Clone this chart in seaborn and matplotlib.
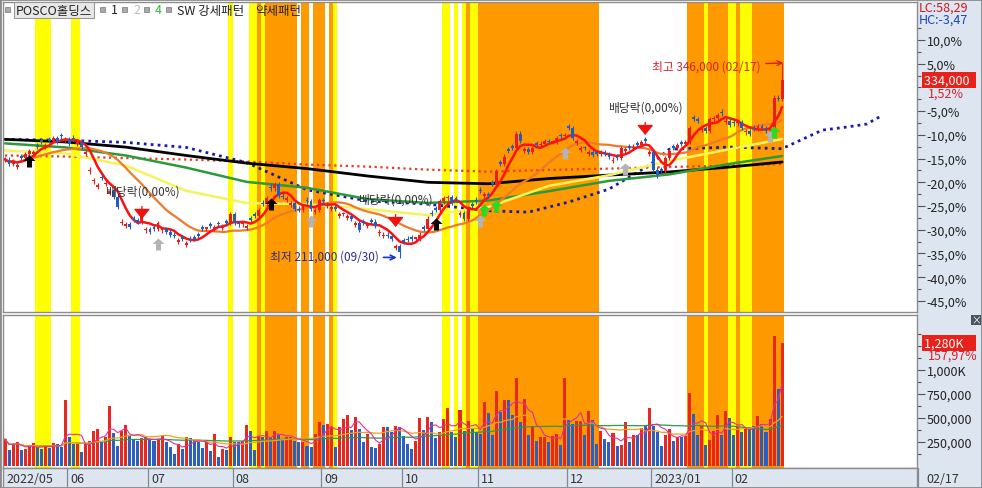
import numpy as np
import pandas as pd
import matplotlib
matplotlib.use("Agg")
import matplotlib.pyplot as plt
import matplotlib.transforms as mtransforms
from matplotlib.patches import Rectangle
from matplotlib.path import Path as MPath
import seaborn as sns

# 기준가(천원) -> 0%
BASE = 329.0

# 종가 (천원), 2022-05-10 ~ 2023-02-17
close = [
    279, 276, 278, 275, 280, 283, 285, 284, 288, 291,
    289, 292, 294, 291, 295, 293, 290, 293, 291, 288,
    284, 272, 265, 261, 266, 263, 257, 253, 246, 236,
    234, 232, 237, 236, 240, 231, 229, 231, 235, 231,
    229, 227, 226, 223, 224, 221, 223, 224, 226, 231,
    231, 233, 232, 234, 233, 235, 241, 235, 234, 234,
    233, 237, 240, 244, 248, 252, 259, 262, 254, 253,
    252, 249, 245, 244, 247, 250, 245, 244, 251, 250,
    248, 246, 245, 241, 241, 240, 238, 235, 230, 235,
    234, 236, 233, 229, 227, 226, 224, 219, 215, 222,
    223, 224, 224, 227, 231, 238, 241, 244, 250, 252,
    253, 249, 251, 242, 238, 245, 247, 250, 257, 255,
    254, 262, 271, 276, 281, 285, 287, 297, 292, 286,
    284, 287, 289, 290, 292, 291, 291, 294, 295, 296,
    301, 294, 292, 287, 287, 284, 282, 283, 284, 283,
    281, 279, 280, 287, 286, 287, 288, 289, 291, 292,
    284, 272, 268, 271, 280, 285, 287, 289, 290, 291,
    301, 307, 306, 301, 299, 307, 308, 310, 311, 306,
    303, 304, 305, 301, 299, 297, 300, 302, 301, 299,
    301, 322, 321, 334,
]

# 양봉(r) / 음봉(b)
candle_dir = (
    "rbrrbrrrbb" "rbrbbrbbrb" "rrrrbrrbbr" "rbbbrrbbrr" "bbbrbrbbbb"
    "rbrbrbrbbr" "rbbrbrbrbb" "rrbbrbbrrb" "rrbrrrbrbb" "rbbrrbbrbb"
    "bbrrbrbbrr" "rbbrbrbbbr" "bbrbrbbrbr" "brbrrbrrbr" "bbrrbrbbrb"
    "brbrrbrbrb" "rbbbrrbrbr" "rbbrbrrrbr" "bbrbrbbrbb" "rrbr"
)

# 거래량 (천주)
volume = [
    281, 170, 229, 247, 170, 177, 198, 236, 198, 177,
    212, 191, 240, 229, 198, 690, 299, 229, 229, 149,
    229, 264, 368, 385, 253, 299, 628, 344, 212, 368,
    427, 309, 281, 257, 288, 299, 281, 257, 274, 309,
    253, 201, 125, 233, 177, 299, 288, 271, 253, 184,
    253, 156, 333, 97, 177, 167, 306, 253, 247, 264,
    427, 368, 167, 316, 306, 365, 299, 365, 326, 281,
    299, 299, 264, 247, 247, 212, 201, 333, 455, 430,
    437, 406, 201, 409, 490, 531, 378, 507, 385, 247,
    333, 201, 188, 229, 409, 409, 351, 420, 409, 316,
    229, 177, 264, 500, 378, 510, 462, 288, 351, 490,
    604, 358, 299, 583, 365, 465, 385, 358, 333, 663,
    552, 323, 781, 559, 688, 688, 531, 917, 455, 698,
    323, 403, 260, 306, 306, 253, 309, 333, 219, 917,
    483, 437, 472, 472, 323, 573, 479, 229, 361, 281,
    247, 344, 212, 219, 455, 247, 323, 323, 392, 413,
    604, 420, 358, 212, 323, 385, 264, 299, 299, 310,
    760, 542, 323, 413, 219, 271, 368, 531, 323, 573,
    500, 323, 403, 358, 385, 403, 420, 521, 437, 358,
    490, 1357, 802, 1280,
]

holidays = ["2022-06-01", "2022-06-06", "2022-08-15", "2022-09-09", "2022-09-12",
            "2022-10-03", "2022-10-10", "2022-12-30", "2023-01-23", "2023-01-24"]
dates = pd.bdate_range("2022-05-10", "2023-02-17", freq="C", holidays=holidays)

# 장기 이동평균 (읽은 값, 천원)
ma_idx = [0, 15, 30, 45, 60, 75, 90, 105, 120, 135, 150, 165, 180, 193]
ma60 = [285.3, 283.2, 274.8, 257.3, 248.8, 248.1, 244.6, 240.4, 246.0, 260.7, 268.1, 278.0, 286.2, 293.2]
ma120 = [290.2, 287.4, 281.8, 273.4, 263.5, 259.4, 251.6, 248.9, 250.5, 257.0, 264.2, 268.7, 276.0, 281.4]
ma240 = [293.0, 291.2, 287.6, 281.8, 276.5, 272.7, 267.6, 263.2, 262.2, 265.8, 268.2, 270.4, 273.8, 277.3]
ma480 = [281.8, 281.1, 280.0, 279.0, 277.6, 275.5, 274.1, 272.0, 270.6, 271.8, 272.7, 273.8, 274.8, 275.9]
span_idx = [0, 15, 30, 45, 60, 75, 90, 105, 120, 130, 140, 150, 160, 165, 180, 193, 196, 203, 209, 214, 218]
span = [293.0, 292.3, 290.9, 287.4, 276.9, 258.0, 250.3, 248.1, 243.5, 242.5, 249.5, 258.5, 275.0, 286.2,
        287.6, 286.5, 290.4, 299.4, 301.5, 303.6, 309.8]

# 패턴 구간 (거래일 인덱스)
yellow_bands = [(8, 11), (17, 18), (56, 56), (61, 62), (64, 64), (82, 82), (109, 110), (112, 112),
                (114, 114), (116, 117), (174, 174), (180, 181), (183, 185)]
orange_bands = [(63, 63), (65, 72), (74, 75), (77, 79), (81, 81), (115, 115), (118, 147),
                (170, 173), (175, 179), (182, 182), (186, 193)]

# 신호
buy_days, buy_price = [6, 66, 107], [278, 248, 234]
gray_days, gray_price = [38, 76, 118, 139, 154, 190], [220.4, 236.3, 236.3, 283.6, 272.5, 295.4]
green_days, green_price = [119, 122, 191], [243.8, 246.8, 298.0]
div_days, div_tip = [34, 97, 159], [237.8, 232.2, 296.0]
hi_day, hi_price = 193, 346
lo_day, lo_price = 98, 211


def pct(p):
    return (np.asarray(p, dtype=float) / BASE - 1) * 100


def main():
    sns.set_style("white")
    plt.rcParams["font.family"] = ["Noto Sans CJK KR", "DejaVu Sans"]
    plt.rcParams["axes.unicode_minus"] = False

    n = len(close)
    idx = np.arange(n)
    c = np.array(close, dtype=float)
    up = np.array([ch == "r" for ch in candle_dir])
    # 시가: 전일 종가, 방향이 맞지 않으면 작은 몸통
    o = np.r_[c[0], c[:-1]]
    bad = (up & (o > c)) | (~up & (o < c))
    o[bad & up] = c[bad & up] - 1.2
    o[bad & ~up] = c[bad & ~up] + 1.2
    hi = np.maximum(o, c) + 1.5
    lo = np.minimum(o, c) - 1.5
    hi[hi_day] = hi_price
    lo[lo_day] = lo_price
    red, blue = "#ec1c1c", "#1f5fc4"
    cols = np.where(up, red, blue)

    df = pd.DataFrame({"i": idx, "close": c, "vol": volume})
    df["ma5"] = df["close"].rolling(5, min_periods=1).mean()
    df["ma20"] = df["close"].rolling(20, min_periods=1).mean()
    df["v5"] = df["vol"].rolling(5, min_periods=1).mean()
    df["v20"] = df["vol"].rolling(20, min_periods=1).mean()
    df["v60"] = df["vol"].rolling(60, min_periods=1).mean()

    W, H = 982, 489

    def box(x0, y0, x1, y1):
        return [x0 / W, 1 - y1 / H, (x1 - x0) / W, (y1 - y0) / H]

    fig = plt.figure(figsize=(W / 100, H / 100), dpi=100)
    fig.patch.set_facecolor("white")
    panel = "#dce5f0"
    fig.add_artist(Rectangle((917 / W, 0), 65 / W, 1, transform=fig.transFigure,
                             facecolor=panel, edgecolor="none", zorder=0))

    ax = fig.add_axes(box(3, 3, 917, 313))
    vax = fig.add_axes(box(3, 316, 917, 469), sharex=ax)
    dax = fig.add_axes(box(3, 469, 917, 489), sharex=ax)

    xmin, xmax = -0.5, 226.5
    ax.set_xlim(xmin, xmax)
    ax.set_ylim(-47.33, 18.0)
    vax.set_ylim(-21, 1573)

    # 패턴 구간
    for a in (ax, vax):
        for s, e in yellow_bands:
            a.axvspan(s - 0.5, e + 0.5, color="#ffff00", lw=0, zorder=0)
        for s, e in orange_bands:
            a.axvspan(s - 0.5, e + 0.5, color="#ff9900", lw=0, zorder=0)

    # 이동평균 / 일목
    sns.lineplot(x=ma_idx, y=pct(ma480), ax=ax, color="#e8392b", linewidth=1.6,
                 linestyle=(0, (1, 1.6)), zorder=2)
    sns.lineplot(x=span_idx, y=pct(span), ax=ax, color="#1a1aa8", linewidth=2.0,
                 linestyle=(0, (1, 1.5)), zorder=2)
    sns.lineplot(x=ma_idx, y=pct(ma240), ax=ax, color="black", linewidth=2.0, zorder=2)
    sns.lineplot(x=ma_idx, y=pct(ma120), ax=ax, color="#2a9a3a", linewidth=1.8, zorder=2)
    sns.lineplot(x=ma_idx, y=pct(ma60), ax=ax, color="#f4f45a", linewidth=1.8, zorder=2)
    sns.lineplot(x=df["i"], y=pct(df["ma20"]), ax=ax, color="#f07a28", linewidth=1.6, zorder=3)
    sns.lineplot(x=df["i"], y=pct(df["ma5"]), ax=ax, color="#ff1010", linewidth=1.8, zorder=3)

    # 캔들
    po, pc = pct(o), pct(c)
    bottom = np.minimum(po, pc)
    height = np.maximum(np.abs(pc - po), 0.3)
    ax.vlines(idx, pct(lo), pct(hi), colors=cols, lw=0.8, zorder=4)
    ax.bar(idx, height, bottom=bottom, width=0.72, color=cols, lw=0, zorder=4)

    # 신호 화살표
    arrow = MPath([(0, 1), (-1, 0.1), (-0.42, 0.1), (-0.42, -1), (0.42, -1), (0.42, 0.1), (1, 0.1), (0, 1)])
    ax.scatter(buy_days, pct(buy_price), marker=arrow, s=75, c="black", lw=0, zorder=5)
    ax.scatter(gray_days, pct(gray_price), marker=arrow, s=75, c="#b4b4b4", lw=0, zorder=5)
    ax.scatter(green_days, pct(green_price), marker=arrow, s=75, c="#22dd22", lw=0, zorder=5)

    # 배당락
    for d, t in zip(div_days, div_tip):
        ax.annotate("배당락(0,00%)", xy=(d, pct(t)), xytext=(0, 20), textcoords="offset points",
                    ha="center", va="center", fontsize=8.5, color="#333333", zorder=6,
                    arrowprops=dict(arrowstyle="-|>,head_width=0.45,head_length=0.55", color="#ee1111",
                                    lw=1, shrinkA=4, shrinkB=0, mutation_scale=11))

    ax.annotate("최고 346,000 (02/17)", xy=(hi_day + 0.3, pct(hi_price)), xytext=(-16, -2),
                textcoords="offset points", ha="right", va="center", fontsize=8.5, color="#d8202a",
                zorder=6, arrowprops=dict(arrowstyle="->", color="#e01818", lw=1, shrinkA=1, shrinkB=0))
    ax.annotate("최저 211,000 (09/30)", xy=(lo_day - 0.7, pct(lo_price)), xytext=(-13, 1),
                textcoords="offset points", ha="right", va="center", fontsize=8.5, color="#2b2b8c",
                zorder=6, arrowprops=dict(arrowstyle="->", color="#1030e0", lw=1.2, shrinkA=1, shrinkB=0))

    # 가격 축 (우측)
    major = [10, 5, -5, -10, -15, -20, -25, -30, -35, -40, -45]
    ax.yaxis.tick_right()
    ax.set_yticks(major)
    ax.set_yticklabels([f"{v:.1f}%".replace(".", ",") for v in major])
    ax.set_yticks([12.5, 7.5, 2.5, 0, -2.5, -7.5, -12.5, -17.5, -22.5, -27.5, -32.5, -37.5, -42.5], minor=True)
    ax.tick_params(axis="y", which="major", length=6, width=0.8, color="#555555", labelsize=9,
                   pad=1, labelcolor="#222222")
    ax.tick_params(axis="y", which="minor", length=3, width=0.8, color="#555555")
    ax.tick_params(axis="x", bottom=False, labelbottom=False)
    ax.set_xlabel("")
    ax.set_ylabel("")

    last = pct(c[-1])
    ax.annotate(f"{int(c[-1] * 1000):,}" + "  ", xy=(1, last), xycoords=("axes fraction", "data"),
                xytext=(5, 0), textcoords="offset points", ha="left", va="center", fontsize=9,
                color="white", annotation_clip=False, zorder=7,
                bbox=dict(boxstyle="square,pad=0.12", fc="#e8221a", ec="none"))
    ax.annotate(f"{last:.2f}%".replace(".", ","), xy=(1, last), xycoords=("axes fraction", "data"),
                xytext=(8, -9), textcoords="offset points", ha="left", va="center", fontsize=9,
                color="#d8202a", annotation_clip=False)

    # 거래량
    vcols = np.where(up, "#e8281e", "#2b5fc0")
    vax.bar(idx, volume, width=0.75, color=vcols, lw=0, zorder=3)
    sns.lineplot(x=df["i"], y=df["v60"], ax=vax, color="#2a9a50", linewidth=0.9, zorder=4)
    sns.lineplot(x=df["i"], y=df["v20"], ax=vax, color="#f0a020", linewidth=0.9, zorder=4)
    sns.lineplot(x=df["i"], y=df["v5"], ax=vax, color="#e0309a", linewidth=0.8, zorder=4)
    vax.yaxis.tick_right()
    vax.set_yticks([250, 500, 750, 1000])
    vax.set_yticklabels(["250,000", "500,000", "750,000", "1,000K"])
    vax.set_yticks([125, 375, 625, 875, 1125, 1250, 1375], minor=True)
    vax.tick_params(axis="y", which="major", length=6, width=0.8, color="#555555", labelsize=9,
                    pad=1, labelcolor="#222222")
    vax.tick_params(axis="y", which="minor", length=3, width=0.8, color="#555555")
    vax.tick_params(axis="x", bottom=False, labelbottom=False)
    vax.set_xlabel("")
    vax.set_ylabel("")
    vlast = volume[-1]
    vax.annotate(f"{vlast:,}K" + "    ", xy=(1, vlast), xycoords=("axes fraction", "data"),
                 xytext=(5, 0), textcoords="offset points", ha="left", va="center", fontsize=9,
                 color="white", annotation_clip=False, zorder=7,
                 bbox=dict(boxstyle="square,pad=0.12", fc="#e8221a", ec="none"))
    vax.annotate("157,97%", xy=(1, vlast), xycoords=("axes fraction", "data"),
                 xytext=(8, -9), textcoords="offset points", ha="left", va="center", fontsize=9,
                 color="#d8202a", annotation_clip=False)

    # 날짜 축
    dax.set_facecolor(panel)
    dax.set_ylim(0, 1)
    dax.set_yticks([])
    dax.tick_params(axis="x", bottom=False, labelbottom=False)
    month_start = [0] + [k for k in range(1, n) if dates[k].month != dates[k - 1].month]
    off = mtransforms.offset_copy(dax.transData, fig=fig, x=3, y=0, units="dots")
    for k in month_start:
        d = dates[k]
        lab = d.strftime("%Y/%m") if (k == 0 or d.month == 1) else d.strftime("%m")
        x = xmin if k == 0 else k - 0.5
        if k > 0:
            dax.axvline(x, color="#7d8a97", lw=0.9)
        dax.text(x, 0.45, lab, transform=off, ha="left", va="center", fontsize=9, color="#333333")
    fig.text(926 / W, 1 - 480 / H, dates[-1].strftime("%m/%d"), ha="left", va="center",
             fontsize=9, color="#333333")
    fig.add_artist(plt.Line2D([918 / W, 918 / W], [0, 20 / H], color="#7d8a97", lw=0.9))

    for a in (ax, vax, dax):
        for sp in a.spines.values():
            sp.set_color("#8c8c8c")
            sp.set_linewidth(1)

    # 상단 범례
    ty = 1 - 11 / H
    for sx in (5, 100, 122, 144, 166):
        fig.add_artist(Rectangle((sx / W, 1 - 13 / H), 5 / W, 5 / H, transform=fig.transFigure,
                                 facecolor="#a9a9a9", edgecolor="#777777", lw=0.5, zorder=8))
    fig.text(16 / W, ty, "POSCO홀딩스", ha="left", va="center", fontsize=9, color="#222222",
             bbox=dict(boxstyle="square,pad=0.12", fc="#e8e8e8", ec="#9a9a9a", lw=0.8))
    fig.text(111 / W, ty, "1", ha="left", va="center", fontsize=9, color="#222222")
    fig.text(133 / W, ty, "2", ha="left", va="center", fontsize=9, color="#bbbbbb")
    fig.text(155 / W, ty, "4", ha="left", va="center", fontsize=9, color="#33bb33")
    fig.text(177 / W, ty, "SW 강세패턴", ha="left", va="center", fontsize=9, color="#222222")
    fig.text(255 / W, ty, "약세패턴", ha="left", va="center", fontsize=9, color="#222222")

    fig.text(919 / W, 1 - 8 / H, "LC:58,29", ha="left", va="center", fontsize=9, color="#d01818")
    fig.text(919 / W, 1 - 20 / H, "HC:-3,47", ha="left", va="center", fontsize=9, color="#1848b0")

    # 닫기 버튼
    fig.add_artist(Rectangle((971 / W, 1 - 326 / H), 10 / W, 10 / H, transform=fig.transFigure,
                             facecolor="#4a5560", edgecolor="none", zorder=8))
    fig.text(976 / W, 1 - 321 / H, "×", ha="center", va="center", fontsize=7, color="white", zorder=9)

    fig.add_artist(Rectangle((0, 0), 1, 1, transform=fig.transFigure, fill=False,
                             edgecolor="#8a8a8a", lw=2, zorder=10))

    fig.savefig("out.png", dpi=100)
    plt.close(fig)


if __name__ == "__main__":
    main()
